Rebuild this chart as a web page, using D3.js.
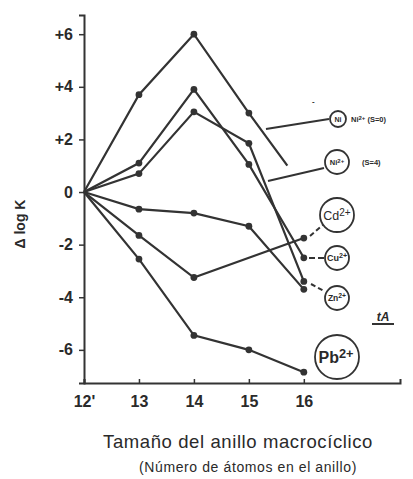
<!DOCTYPE html>
<html>
<head>
<meta charset="utf-8">
<title>Delta log K vs ring size</title>
<script src="https://d3js.org/d3.v7.min.js"></script>
<style>
  html, body { margin: 0; padding: 0; background: #fff; }
  svg { display: block; }
  text { font-family: "Liberation Sans", Arial, sans-serif; fill: #2a2a2a; }
</style>
</head>
<body>
<div id="chart"></div>
<script>
// ring sizes (x) and the change in log K for each metal ion series
var ringSizes = [12, 13, 14, 15, 16];
var niS0 = [0, 3.7, 6.0, 3.0];            // plus an unmarked tail
var niS0TailX = 15.7, niS0TailY = 1.0;
var niPeak = [0, 1.1, 3.9, 1.05, -2.5];
var niS4 = [0, 0.7, 3.05, 1.85, -3.4];
var cdLike = [0, -0.65, -0.8, -1.3, -3.7];
var cdSizes = [12, 13, 14, 16];
var cd = [0, -1.65, -3.25, -1.75];
var pb = [0, -2.55, -5.45, -6.0, -6.85];

var yTicks = [6, 4, 2, 0, -2, -4, -6];
var yTickLabels = ["+6", "+4", "+2", "0", "-2", "-4", "-6"];
var xTickLabels = ["12'", "13", "14", "15", "16"];

var W = 413, H = 479;
var svg = d3.select("#chart").append("svg").attr("width", W).attr("height", H);

var x = d3.scaleLinear().domain([12, 17.75]).range([84, 400]);
var y = d3.scaleLinear().domain([-7.26, 6.73]).range([383, 15]);

var ink = "#333";

// axes
var yAxis = d3.axisLeft(y).tickValues(yTicks).tickSize(5).tickPadding(6)
  .tickFormat(function(d) { return yTickLabels[yTicks.indexOf(d)]; });
var gy = svg.append("g").attr("transform", "translate(" + x(12) + ",0)").call(yAxis);
gy.select(".domain").attr("stroke", ink).attr("stroke-width", 2);
gy.selectAll(".tick line").attr("stroke", ink).attr("stroke-width", 1.5);
gy.selectAll(".tick text").attr("font-size", 16).attr("font-weight", "bold").style("fill", "#2a2a2a");

var xAxis = d3.axisBottom(x).tickValues(ringSizes).tickSize(-4).tickPadding(13)
  .tickFormat(function(d, i) { return xTickLabels[i]; });
var gx = svg.append("g").attr("transform", "translate(0," + y(-7.26) + ")").call(xAxis);
gx.select(".domain").attr("stroke", ink).attr("stroke-width", 2);
gx.selectAll(".tick line").attr("stroke", ink).attr("stroke-width", 1.5);
gx.selectAll(".tick text").attr("font-size", 16).attr("font-weight", "bold").style("fill", "#2a2a2a");

svg.append("text")
  .attr("transform", "translate(25,224) rotate(-90)")
  .attr("text-anchor", "middle")
  .attr("font-size", 14).attr("font-weight", "bold")
  .text("Δ log K");

svg.append("text").attr("x", 238).attr("y", 448).attr("text-anchor", "middle")
  .attr("font-size", 18.5).attr("letter-spacing", 0.6).text("Tamaño del anillo macrocíclico");
svg.append("text").attr("x", 248).attr("y", 472).attr("text-anchor", "middle")
  .attr("font-size", 14).attr("letter-spacing", 0.6).text("(Número de átomos en el anillo)");

// series
function pts(xs, ys) { return ys.map(function(v, i) { return [xs[i], v]; }); }
var series = [
  { p: pts(ringSizes, niS0), tail: [niS0TailX, niS0TailY] },
  { p: pts(ringSizes, niPeak) },
  { p: pts(ringSizes, niS4) },
  { p: pts(ringSizes, cdLike) },
  { p: pts(cdSizes, cd) },
  { p: pts(ringSizes, pb) }
];

var line = d3.line().x(function(d) { return x(d[0]); }).y(function(d) { return y(d[1]); });

series.forEach(function(s) {
  var all = s.tail ? s.p.concat([s.tail]) : s.p;
  svg.append("path").attr("d", line(all))
    .attr("fill", "none").attr("stroke", ink).attr("stroke-width", 2.2).attr("stroke-linejoin", "miter");
  svg.selectAll(null).data(s.p.slice(1)).enter().append("circle")
    .attr("cx", function(d) { return x(d[0]); })
    .attr("cy", function(d) { return y(d[1]); })
    .attr("r", 3.4).attr("fill", ink);
});

// labels with circles
function ring(cx, cy, r) {
  svg.append("circle").attr("cx", cx).attr("cy", cy).attr("r", r)
    .attr("fill", "#fff").attr("stroke", ink).attr("stroke-width", 1.8);
}
function lead(x1, y1, x2, y2, dash) {
  svg.append("line").attr("x1", x1).attr("y1", y1).attr("x2", x2).attr("y2", y2)
    .attr("stroke", ink).attr("stroke-width", 2).attr("stroke-dasharray", dash || null);
}
function sup(t, base, supTxt, size) {
  t.append("tspan").text(base);
  t.append("tspan").attr("dy", -size * 0.3).attr("font-size", size * 0.8).text(supTxt);
}

lead(266, 129, 329, 119);
ring(338, 119, 8);
svg.append("text").attr("x", 338).attr("y", 122).attr("text-anchor", "middle")
  .attr("font-size", 7).attr("font-weight", "bold").text("Ni");
var t0 = svg.append("text").attr("x", 351).attr("y", 122).attr("font-size", 7.5).attr("font-weight", "bold");
sup(t0, "Ni", "2+", 7.5); t0.append("tspan").attr("dy", 2.3).text(" (S=0)");
svg.append("text").attr("x", 312).attr("y", 104).attr("font-size", 8).attr("font-weight", "bold").text("-");

lead(268, 181, 324, 168);
ring(337, 162, 12);
var t1 = svg.append("text").attr("x", 337).attr("y", 165).attr("text-anchor", "middle").attr("font-size", 7.5).attr("font-weight", "bold");
sup(t1, "Ni", "2+", 7.5);
svg.append("text").attr("x", 362).attr("y", 165).attr("font-size", 7.5).attr("font-weight", "bold").text("(S=4)");

lead(310, 236, 324, 224, "5,3");
ring(337, 215, 17);
var t2 = svg.append("text").attr("x", 337).attr("y", 220).attr("text-anchor", "middle").attr("font-size", 12.5);
sup(t2, "Cd", "2+", 12.5);

lead(309, 258, 325, 258, "6,3");
ring(337, 258, 12);
var t3 = svg.append("text").attr("x", 337).attr("y", 261).attr("text-anchor", "middle").attr("font-size", 9).attr("font-weight", "bold");
sup(t3, "Cu", "2+", 9);

lead(311, 284, 324, 291, "5,3");
ring(337, 298, 12);
var t4 = svg.append("text").attr("x", 337).attr("y", 301).attr("text-anchor", "middle").attr("font-size", 8.5).attr("font-weight", "bold");
sup(t4, "Zn", "2+", 8.5);

ring(337, 357, 22);
var t5 = svg.append("text").attr("x", 336).attr("y", 363).attr("text-anchor", "middle").attr("font-size", 16).attr("font-weight", "bold");
sup(t5, "Pb", "2+", 16);

svg.append("text").attr("x", 383).attr("y", 321).attr("text-anchor", "middle")
  .attr("font-size", 12).attr("font-weight", "bold").attr("font-style", "italic").text("tA");
lead(372, 324, 394, 324);
</script>
</body>
</html>
